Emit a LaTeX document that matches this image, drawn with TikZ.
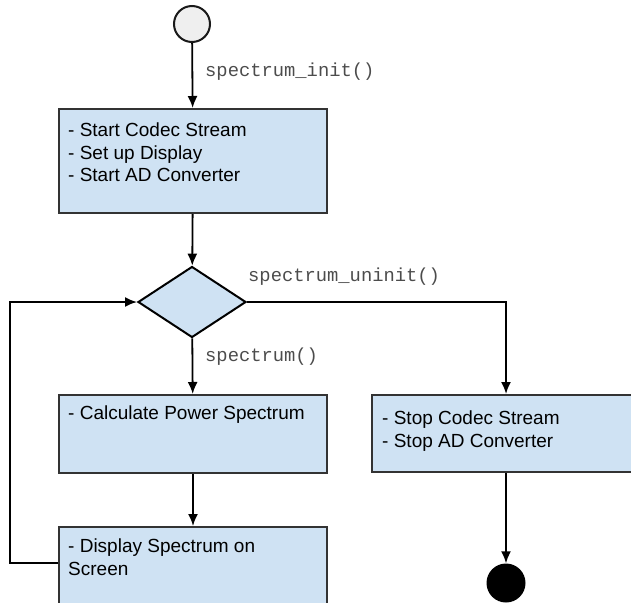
\documentclass[tikz,border=0pt]{standalone}
\usepackage{fontspec}
\setmainfont{Liberation Sans}
\newfontfamily\codefont{Liberation Mono}
\usetikzlibrary{calc,shapes,arrows.meta,positioning}
\definecolor{boxblue}{HTML}{CFE2F3}
\definecolor{startgray}{HTML}{EFEFEF}

\begin{document}
\begin{tikzpicture}[x=1pt,y=-1pt,
    box/.style={draw=black!80,line width=2pt,fill=boxblue,inner sep=0pt,anchor=north west},
    boxtext/.style={inner sep=0pt,align=left,font=\fontsize{19}{22.5}\selectfont},
    choicebox/.style={diamond,draw=black,line width=2pt,fill=boxblue,inner sep=0pt,
      minimum width=108pt,minimum height=71pt},
    startpt/.style={circle,draw=black!90,line width=2pt,fill=startgray,inner sep=0pt,minimum size=36pt},
    endpt/.style={circle,fill=black,inner sep=0pt,minimum size=39pt},
    call/.style={anchor=west,inner sep=0pt,text=black!70,font=\codefont\fontsize{18.8}{20}\selectfont},
    flow/.style={line width=1.8pt,-{Latex[length=12pt,width=10pt]}}]
      \useasboundingbox (0,0) rectangle (631,602);
      % states
      \node[startpt](start) at (192,24) {};
      \node[box,minimum width=268pt,minimum height=104pt](init) at (58,108) {};
      \node[boxtext,below right=15pt and 10pt of init.north west](initT)
        {- Start Codec Stream\\- Set up Display\\- Start AD Converter};
      \node[choicebox](choice) at (192,302) {};
      \node[box,minimum width=268pt,minimum height=78pt](calc) at (58,394) {};
      \node[boxtext,below right=12pt and 10pt of calc.north west](calcT) {- Calculate Power Spectrum};
      \node[box,minimum width=268pt,minimum height=100pt](disp) at (58,526) {};
      \node[boxtext,below right=13pt and 10pt of disp.north west](dispT) {- Display Spectrum on\\Screen};
      \node[box,minimum width=330pt,minimum height=77pt](stop) at (371,394) {};
      \node[boxtext,below right=17pt and 11pt of stop.north west](stopT)
        {- Stop Codec Stream\\- Stop AD Converter};
      \node[endpt](end) at (506,583) {};
      \coordinate (back) at (10,563);
      % transitions
      \draw[flow](start)--(init);
      \draw[flow](init)--(choice);
      \draw[flow](choice)--(calc);
      \draw[flow](calc)--(disp);
      \draw[flow](choice.east)-|(end |- stop.north);
      \draw[flow](end |- stop.south)--(end);
      \draw[flow](disp.west |- back)--(back)|-(choice.west);
      % function calls
      \node[call](initC) at (205,72) {spectrum\_init()};
      \node[call](uninitC) at (248,277) {spectrum\_uninit()};
      \node[call](specC) at (205,357) {spectrum()};
\end{tikzpicture}
\end{document}
